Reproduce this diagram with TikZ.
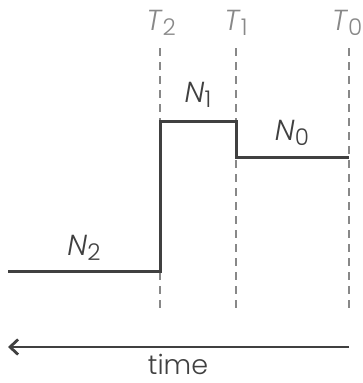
\documentclass[tikz,border=0pt]{standalone}
\usepackage{fontspec}
\setmainfont{Poppins}[UprightFont={Poppins Light},ItalicFont={Poppins Light Italic}]
\usetikzlibrary{arrows.meta}
\definecolor{dark}{HTML}{404040}
\definecolor{lbl}{HTML}{888888}
\newcommand{\lab}[2]{\textit{#1}\raisebox{-5pt}{\fontsize{23}{23}\selectfont #2}}
\begin{document}
\begin{tikzpicture}[x=1pt,y=-1pt,
  step line/.style={draw=dark,line width=3pt},
  guide/.style={draw=lbl,line width=1.3pt,dash pattern=on 8pt off 6pt},
  tlabel/.style={text=lbl,font=\fontsize{29}{29}\selectfont,inner sep=0pt,anchor=base},
  nlabel/.style={text=dark,font=\fontsize{29}{29}\selectfont,inner sep=0pt,anchor=base},
  timelabel/.style={text=dark,font=\fontsize{27}{27}\selectfont,inner sep=0pt,anchor=base}]
\useasboundingbox (0,0) rectangle (363,383);
% guides
\coordinate (g2a) at (160,48); \coordinate (g2b) at (160,309);
\coordinate (g1a) at (236,48); \coordinate (g1b) at (236,309);
\coordinate (g0a) at (349,48); \coordinate (g0b) at (349,309);
\draw[guide] (g2a) -- (g2b);
\draw[guide] (g1a) -- (g1b);
\draw[guide] (g0a) -- (g0b);
% step
\coordinate (s0) at (8,271);
\coordinate (s1) at (160,271);
\coordinate (s2) at (160,121);
\coordinate (s3) at (236,121);
\coordinate (s4) at (236,157);
\coordinate (s5) at (349,157);
\draw[step line,line join=miter] (s0) -- (s1) -- (s2) -- (s3) -- (s4) -- (s5);
% labels
\node[tlabel] (T2) at (161,30) {\lab{T}{2}};
\node[tlabel] (T1) at (236,30) {\lab{T}{1}};
\node[tlabel] (T0) at (347,30) {\lab{T}{0}};
\node[nlabel] (N1) at (198,102) {\lab{N}{1}};
\node[nlabel] (N0) at (292,140) {\lab{N}{0}};
\node[nlabel] (N2) at (84,255) {\lab{N}{2}};
% time arrow
\coordinate (a0) at (349,347);
\coordinate (a1) at (8,347);
\draw[draw=dark,line width=2.8pt,-{Straight Barb[length=8pt,width=15pt,line width=2.8pt]}] (a0) -- (a1);
\node[timelabel] (time) at (178,374) {time};
\end{tikzpicture}
\end{document}
